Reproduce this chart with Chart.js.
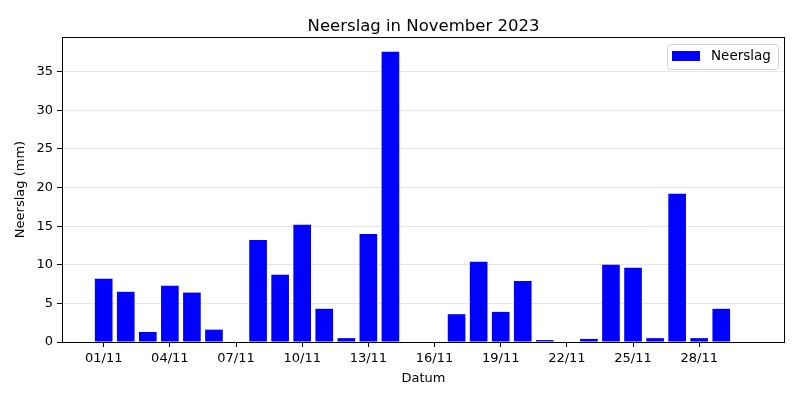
<!DOCTYPE html>
<html>
<head>
<meta charset="utf-8">
<script src="https://cdn.jsdelivr.net/npm/chart.js@4.4.0/dist/chart.umd.min.js"></script>
<style>
html,body{margin:0;padding:0;background:#fff;}
#wrap{width:800px;height:400px;}
</style>
</head>
<body>
<div id="wrap"><canvas id="c" width="800" height="400"></canvas></div>
<script>
const dates = ["01/11","02/11","03/11","04/11","05/11","06/11","07/11","08/11","09/11","10/11",
               "11/11","12/11","13/11","14/11","15/11","16/11","17/11","18/11","19/11","20/11",
               "21/11","22/11","23/11","24/11","25/11","26/11","27/11","28/11","29/11","30/11"];
const neerslag = [8.2,6.5,1.3,7.3,6.4,1.6,0,13.2,8.7,15.2,
                  4.3,0.5,14.0,37.6,0,0,3.6,10.4,3.9,7.9,
                  0.25,0,0.4,10.0,9.6,0.5,19.2,0.5,4.3,0];
const xTickDays = [1,4,7,10,13,16,19,22,25,28];
const yTicks = [0,5,10,15,20,25,30,35];
const chartTitle = 'Neerslag in November 2023';

const FONT = "'DejaVu Sans', sans-serif";

const frame = {
  id: 'frame',
  afterDraw(chart) {
    const {ctx, chartArea: a} = chart;
    ctx.save();
    ctx.strokeStyle = '#000';
    ctx.lineWidth = 1;
    ctx.strokeRect(Math.round(a.left)+0.5, Math.round(a.top)+0.5, Math.round(a.right-a.left)-1, Math.round(a.bottom-a.top));
    // title centered over plot area
    ctx.fillStyle = '#000';
    ctx.font = "16.5px " + FONT;
    ctx.textAlign = 'center';
    ctx.textBaseline = 'alphabetic';
    ctx.fillText(chartTitle, (a.left + a.right) / 2, 31);
    // legend
    const label = chart.data.datasets[0].label;
    const x0 = 667, y0 = 44, w = 111, h = 25;
    ctx.beginPath();
    ctx.roundRect(x0+0.5, y0+0.5, w, h, 3);
    ctx.fillStyle = 'rgba(255,255,255,0.8)';
    ctx.fill();
    ctx.strokeStyle = '#d5d5d5';
    ctx.stroke();
    ctx.fillStyle = '#0000ff';
    ctx.fillRect(672, 51, 28, 10);
    ctx.fillStyle = '#000';
    ctx.font = "13.5px " + FONT;
    ctx.textBaseline = 'middle';
    ctx.textAlign = 'left';
    ctx.fillText(label, 711, 56.5);
    ctx.restore();
  }
};

new Chart(document.getElementById('c'), {
  type: 'bar',
  data: {
    datasets: [{
      label: 'Neerslag',
      data: neerslag.map((v, i) => ({x: i + 1, y: v})),
      backgroundColor: '#0000ff',
      borderWidth: 0,
      barPercentage: 0.8,
      categoryPercentage: 1.0
    }]
  },
  options: {
    responsive: false,
    animation: false,
    devicePixelRatio: 1,
    layout: {padding: {left: 0, right: 15, top: 37, bottom: 0}},
    plugins: {
      legend: {display: false},
      tooltip: {enabled: false},
      title: {display: false}
    },
    scales: {
      x: {
        type: 'linear',
        min: -0.89,
        max: 31.89,
        offset: false,
        grid: {display: true, drawOnChartArea: false, drawTicks: true, tickLength: 5, tickColor: '#000', offset: false},
        border: {display: false},
        afterBuildTicks: s => { s.ticks = xTickDays.map(v => ({value: v})); },
        afterFit: s => { s.height = 58; },
        ticks: {
          autoSkip: false, maxRotation: 0, color: '#000', padding: 4,
          font: {family: FONT, size: 13},
          callback: v => dates[v - 1]
        },
        title: {display: true, text: 'Datum', color: '#000', font: {family: FONT, size: 13}, padding: {top: 0, bottom: 14}}
      },
      y: {
        min: 0,
        max: 39.5,
        grid: {color: '#e6e6e6', tickColor: '#000', tickLength: 5, drawTicks: true},
        border: {display: false},
        afterBuildTicks: s => { s.ticks = yTicks.map(v => ({value: v})); },
        afterFit: s => { s.width = 62; },
        ticks: {color: '#000', padding: 4, font: {family: FONT, size: 13}},
        title: {display: true, text: 'Neerslag (mm)', color: '#000', font: {family: FONT, size: 13}, padding: {top: 13, bottom: 0}}
      }
    }
  },
  plugins: [frame]
});
</script>
</body>
</html>
